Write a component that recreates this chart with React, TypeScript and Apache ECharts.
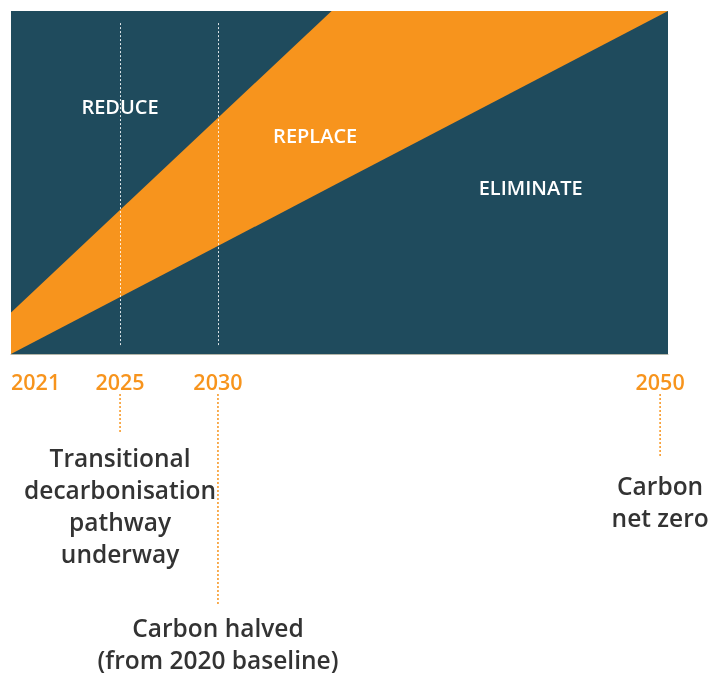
import React, { useEffect, useRef } from 'react';
import * as echarts from 'echarts';

// Horizontal position: progress along the transition (0 = 2021, 1 = right edge)
const progress = [0, 0.488, 1];
// Cumulative share boundaries (0..1)
const eliminateTop = [0, 0.488, 1];
const replaceTop = [0.121, 1, 1];

const zoneNames = ['REDUCE', 'REPLACE', 'ELIMINATE'];
const zoneProgress = [0.166, 0.463, 0.791];
const zoneLevel = [0.723, 0.638, 0.484];

const milestoneYears = ['2021', '2025', '2030', '2050'];
const milestoneProgress = [0, 0.166, 0.315, 0.988];
const milestoneNotes = [
  '',
  'Transitional\ndecarbonisation\npathway\nunderway',
  'Carbon halved\n(from 2020 baseline)',
  'Carbon\nnet zero',
];
const guideMilestones = [1, 2];

const TEAL = '#1f4b5d';
const ORANGE = '#f7941d';
const FONT = '"Open Sans", "Noto Sans", sans-serif';

// layout below the chart (px offset below the chart bottom)
const connectorEnd = [0, 80, 250, 103];
const noteCenter = [0, 151, 289, 147];

export default function App() {
  const ref = useRef<HTMLDivElement>(null);
  useEffect(() => {
    if (!ref.current) return;
    const chart = echarts.init(ref.current, undefined, { renderer: 'svg' });

    const connectorSeries = milestoneProgress
      .map((p, i) => ({ p, i }))
      .filter(({ i }) => milestoneNotes[i])
      .map(({ p, i }) => ({
        type: 'line',
        xAxisIndex: 1,
        yAxisIndex: 1,
        data: [
          [p, 40],
          [p, connectorEnd[i]],
        ],
        symbol: 'none',
        silent: true,
        lineStyle: { color: ORANGE, width: 1.5, type: [2, 2] },
        z: 3,
      }));

    const textLabel = (color: string, size: number, extra: any = {}) => ({
      show: true,
      position: 'inside',
      formatter: (p: any) => p.name,
      color,
      opacity: 1,
      textBorderWidth: 0,
      textShadowBlur: 0,
      fontSize: size,
      fontWeight: 600,
      fontFamily: FONT,
      ...extra,
    });

    const option: any = {
      animation: false,
      grid: [
        { left: 11, top: 11, width: 657, height: 343, show: true, backgroundColor: TEAL, borderWidth: 0 },
        { left: 11, top: 354, width: 657, height: 319, show: false },
      ],
      xAxis: [
        {
          gridIndex: 0,
          type: 'value',
          min: 0,
          max: 1,
          splitLine: { show: false },
          axisTick: { show: false },
          axisLine: { show: true, lineStyle: { color: '#b3b5a8', width: 1 } },
          axisLabel: {
            show: true,
            customValues: milestoneProgress,
            formatter: (v: number) => {
              let best = -1;
              let bd = 1e9;
              milestoneProgress.forEach((p, i) => {
                const d = Math.abs(p - v);
                if (d < bd) {
                  bd = d;
                  best = i;
                }
              });
              return bd < 0.001 ? milestoneYears[best] : '';
            },
            color: ORANGE,
            fontSize: 21.5,
            fontWeight: 600,
            fontFamily: FONT,
            margin: 16,
            alignMinLabel: 'left',
          },
        },
        { gridIndex: 1, type: 'value', min: 0, max: 1, show: false },
      ],
      yAxis: [
        { gridIndex: 0, type: 'value', min: 0, max: 1, show: false },
        { gridIndex: 1, type: 'value', min: 0, max: 319, inverse: true, show: false },
      ],
      series: [
        {
          name: 'Replace',
          type: 'line',
          xAxisIndex: 0,
          yAxisIndex: 0,
          data: progress.map((x, i) => [x, replaceTop[i]]),
          symbol: 'none',
          silent: true,
          lineStyle: { width: 0 },
          areaStyle: { color: ORANGE, opacity: 1 },
          z: 1,
        },
        {
          name: 'Eliminate',
          type: 'line',
          xAxisIndex: 0,
          yAxisIndex: 0,
          data: progress.map((x, i) => [x, eliminateTop[i]]),
          symbol: 'none',
          silent: true,
          lineStyle: { width: 0 },
          areaStyle: { color: TEAL, opacity: 1 },
          z: 2,
          markLine: {
            silent: true,
            symbol: 'none',
            label: { show: false },
            lineStyle: { color: 'rgba(255,255,255,0.85)', width: 1, type: [2, 2] },
            data: guideMilestones.map((i) => [
              { coord: [milestoneProgress[i], 0.026] },
              { coord: [milestoneProgress[i], 0.965] },
            ]),
          },
        },
        {
          name: 'zones',
          type: 'scatter',
          xAxisIndex: 0,
          yAxisIndex: 0,
          symbolSize: 0,
          silent: true,
          z: 5,
          itemStyle: { opacity: 1, color: '#ffffff' },
          data: zoneNames.map((n, i) => ({ name: n, value: [zoneProgress[i], zoneLevel[i]] })),
          label: textLabel('#ffffff', 20),
        },
        ...connectorSeries,
        {
          name: 'notes',
          type: 'scatter',
          xAxisIndex: 1,
          yAxisIndex: 1,
          symbolSize: 0,
          silent: true,
          z: 5,
          itemStyle: { opacity: 1, color: '#333333' },
          data: milestoneProgress
            .map((p, i) => ({ name: milestoneNotes[i], value: [p, noteCenter[i]] }))
            .filter((d) => d.name),
          label: textLabel('#333333', 24.5, { lineHeight: 32, align: 'center' }),
        },
      ],
    };
    chart.setOption(option);
    return () => chart.dispose();
  }, []);

  return <div ref={ref} style={{ position: 'fixed', left: 0, top: 0, width: 710, height: 673 }} />;
}
